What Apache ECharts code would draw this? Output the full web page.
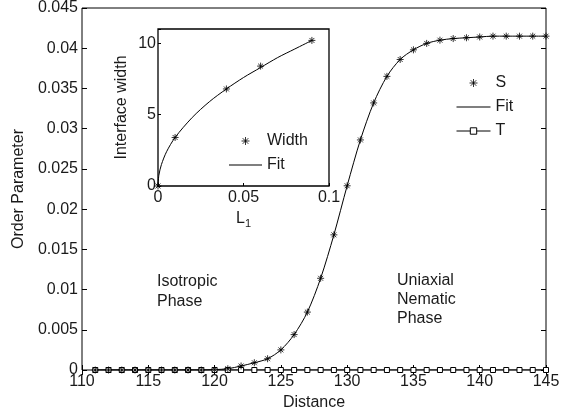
<!DOCTYPE html>
<html>
<head>
<meta charset="utf-8">
<script src="https://cdn.jsdelivr.net/npm/echarts@6/dist/echarts.min.js"></script>
<style>html,body{margin:0;padding:0;background:#fff}#c{width:572px;height:416px}</style>
</head>
<body>
<div id="c"></div>
<script>
// ---- data ----
var distance = [111,112,113,114,115,116,117,118,119,120,121,122,123,124,125,126,127,128,129,130,131,132,133,134,135,136,137,138,139,140,141,142,143,144,145];
var sValues  = [0,0,0,0,0,0,0,0,0,0.00005,0.00016,0.0005,0.0009,0.0014,0.0025,0.0044,0.0072,0.0114,0.0168,0.0229,0.0286,0.0332,0.0365,0.0386,0.0398,0.0406,0.0410,0.0412,0.0413,0.0414,0.0415,0.0415,0.0415,0.0415,0.0415];
var tValues  = [0,0,0,0,0,0,0,0,0,0,0,0,0,0,0,0,0,0,0,0,0,0,0,0,0,0,0,0,0,0,0,0,0,0,0];
var xTickLabels = ['110','115','120','125','130','135','140','145'];
var yTickLabels = ['0','0.005','0.01','0.015','0.02','0.025','0.03','0.035','0.04','0.045'];

var insetL1    = [0,0.01,0.04,0.06,0.09];
var insetWidth = [0,3.4,6.8,8.4,10.2];
var insetFitL1 = [0,0.0005,0.002,0.005,0.01,0.02,0.03,0.04,0.05,0.06,0.07,0.08,0.09];
var insetFitW  = [0,0.75,1.5,2.4,3.4,4.8,5.9,6.8,7.6,8.3,9.0,9.6,10.2];
var insetXTickLabels = ['0','0.05','0.1'];
var insetYTickLabels = ['0','5','10'];

// ---- helpers ----
function zip(a,b){var r=[];for(var i=0;i<a.length;i++)r.push([a[i],b[i]]);return r;}
function tickFmt(labels,start,step){return function(v){var i=Math.round((v-start)/step);return (Math.abs(v-(start+i*step))<1e-9 && labels[i]!==undefined)?labels[i]:'';};}

var FONT = '"Liberation Sans", Arial, Helvetica, sans-serif';
var TXT = '#1a1a1a';
var STAR = 'path://M5,0L5,10M0,5L10,5M1.5,1.5L8.5,8.5M1.5,8.5L8.5,1.5';
var LINEICON = 'path://M0,0H34V1H0Z';

var chart = echarts.init(document.getElementById('c'), null, {renderer:'canvas'});
var lbl = {color:TXT, fontSize:16, fontFamily:FONT};

chart.setOption({
  animation:false,
  backgroundColor:'#fff',
  textStyle:{fontFamily:FONT},
  grid:[
    {left:82, right:26, top:8, bottom:43, show:true, borderColor:'#000', borderWidth:1, backgroundColor:'transparent'},
    {left:158, top:29, width:171, height:157, show:true, borderColor:'#000', borderWidth:1.3, backgroundColor:'#fff'}
  ],
  xAxis:[
    {gridIndex:0, type:'value', min:110, max:145, interval:5, position:'bottom',
     axisLine:{show:false}, splitLine:{show:false},
     axisTick:{inside:true, length:5, lineStyle:{color:'#000'}},
     axisLabel:Object.assign({margin:4, formatter:tickFmt(xTickLabels,110,5)}, lbl),
     name:'Distance', nameLocation:'middle', nameGap:25, nameTextStyle:lbl},
    {gridIndex:0, type:'value', min:110, max:145, interval:5, position:'top',
     axisLine:{show:false}, splitLine:{show:false},
     axisTick:{inside:true, length:5, lineStyle:{color:'#000'}}, axisLabel:{show:false}},
    {gridIndex:1, type:'value', min:0, max:0.1, interval:0.05, position:'bottom',
     axisLine:{show:false}, splitLine:{show:false},
     axisTick:{inside:true, length:3, lineStyle:{color:'#000'}},
     axisLabel:Object.assign({margin:4, formatter:tickFmt(insetXTickLabels,0,0.05)}, lbl),
     name:'{l|L}{s|1}', nameLocation:'middle', nameGap:22,
     nameTextStyle:{rich:{l:{fontSize:16,color:TXT,fontFamily:FONT}, s:{fontSize:11,color:TXT,fontFamily:FONT,padding:[10,0,0,0]}}}}
  ],
  yAxis:[
    {gridIndex:0, type:'value', min:0, max:0.045, interval:0.005, position:'left',
     axisLine:{show:false}, splitLine:{show:false},
     axisTick:{inside:true, length:5, lineStyle:{color:'#000'}},
     axisLabel:Object.assign({margin:4, formatter:tickFmt(yTickLabels,0,0.005)}, lbl),
     name:'Order Parameter', nameLocation:'middle', nameGap:48, nameTextStyle:lbl},
    {gridIndex:0, type:'value', min:0, max:0.045, interval:0.005, position:'right',
     axisLine:{show:false}, splitLine:{show:false},
     axisTick:{inside:true, length:5, lineStyle:{color:'#000'}}, axisLabel:{show:false}},
    {gridIndex:1, type:'value', min:0, max:11, interval:5, position:'left',
     axisLine:{show:false}, splitLine:{show:false},
     axisTick:{inside:true, length:3, lineStyle:{color:'#000'}},
     axisLabel:Object.assign({margin:2, formatter:tickFmt(insetYTickLabels,0,5)}, lbl),
     name:'Interface width', nameLocation:'middle', nameGap:28, nameTextStyle:lbl}
  ],
  legend:[
    {orient:'vertical', left:456, top:75, padding:0, itemWidth:34, itemHeight:8, itemGap:8,
     textStyle:lbl, itemStyle:{borderWidth:1}, lineStyle:{width:1},
     data:['S', {name:'Fit', icon:LINEICON}, 'T']},
    {orient:'vertical', left:229, top:133, padding:0, itemWidth:33, itemHeight:8, itemGap:8,
     textStyle:lbl, itemStyle:{borderWidth:1}, lineStyle:{width:1},
     data:['Width', {name:'Fit ', icon:LINEICON}]}
  ],
  series:[
    {name:'Fit', type:'line', xAxisIndex:0, yAxisIndex:0, data:zip(distance,sValues),
     smooth:0.3, showSymbol:false, symbol:'none', lineStyle:{color:'#000', width:1}, itemStyle:{color:'#000'}, z:2},
    {name:'T', type:'line', xAxisIndex:0, yAxisIndex:0, data:zip(distance,tValues),
     symbol:'rect', symbolSize:5, showSymbol:true,
     lineStyle:{color:'#000', width:1}, itemStyle:{color:'#fff', borderColor:'#000', borderWidth:1}, z:3},
    {name:'S', type:'scatter', xAxisIndex:0, yAxisIndex:0, data:zip(distance,sValues),
     symbol:STAR, symbolSize:7, itemStyle:{color:'#000', borderColor:'#000', borderWidth:1}, z:4},
    {name:'Fit ', type:'line', xAxisIndex:2, yAxisIndex:2, data:zip(insetFitL1,insetFitW),
     smooth:0.3, showSymbol:false, symbol:'none', lineStyle:{color:'#000', width:1}, itemStyle:{color:'#000'}, z:5},
    {name:'Width', type:'scatter', xAxisIndex:2, yAxisIndex:2, data:zip(insetL1,insetWidth),
     symbol:STAR, symbolSize:7, itemStyle:{color:'#000', borderColor:'#000', borderWidth:1}, z:6}
  ],
  graphic:[
    {type:'text', left:157, top:272, z:10, style:{text:'Isotropic\nPhase', fill:TXT, font:'16px '+FONT, lineHeight:20}},
    {type:'text', left:397, top:271, z:10, style:{text:'Uniaxial\nNematic\nPhase', fill:TXT, font:'16px '+FONT, lineHeight:19}}
  ]
});
</script>
</body>
</html>
